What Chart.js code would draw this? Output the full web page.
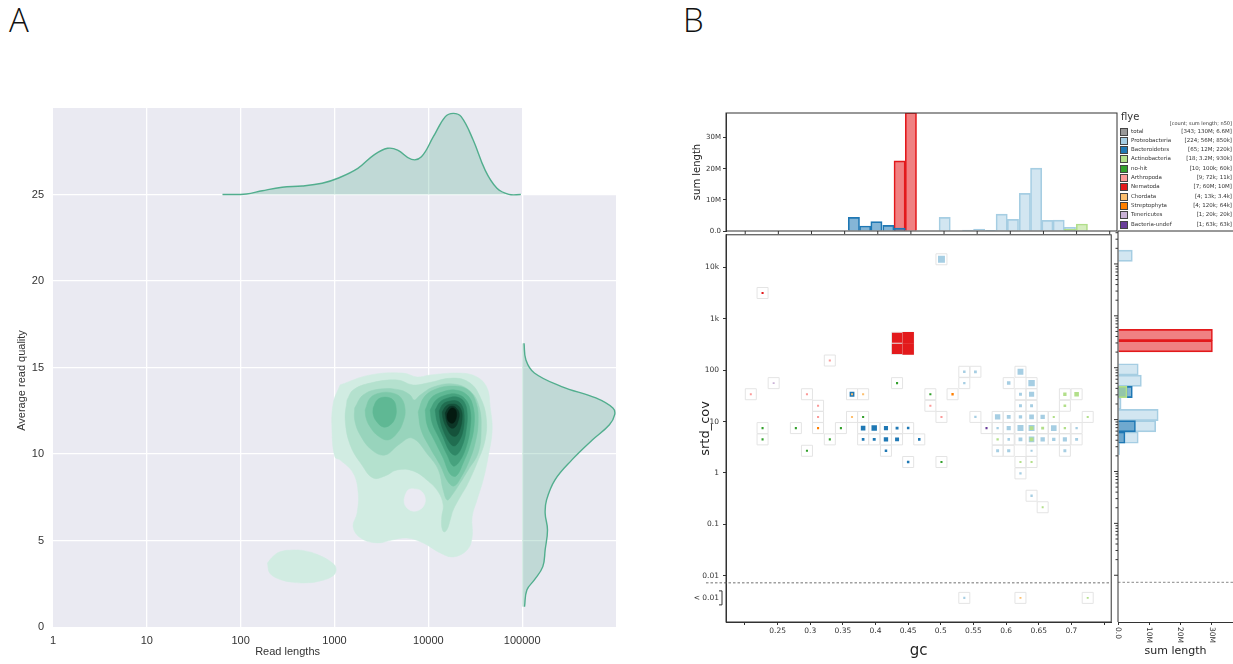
<!DOCTYPE html>
<html lang="en">
<head>
<meta charset="UTF-8">
<title>Read length / quality density and blobplot</title>
<script src="https://cdn.jsdelivr.net/npm/chart.js"></script>
<style>
  body { margin: 0; width: 1233px; height: 664px; position: relative; overflow: hidden; background: #fff; }
  canvas { position: absolute; }
  .tag { position: absolute; font: 300 33px "Open Sans", "Liberation Sans", sans-serif; color: #111; line-height: 33px; }
  #legend { position: absolute; left: 1117px; top: 110px; width: 116px; height: 121px; font-family: "DejaVu Sans", sans-serif; color: #333; }
  #legend .title { position: absolute; left: 4px; top: 1px; font-size: 10px; }
  #legend .head { position: absolute; right: 1px; top: 10px; font-size: 5px; }
  #legend .row { position: absolute; left: 3px; right: 1px; height: 9px; font-size: 5.5px; line-height: 9px; }
  #legend .sw { position: absolute; left: 0; top: 1px; width: 6px; height: 6px; border: 1px solid #444; }
  #legend .name { position: absolute; left: 11px; }
  #legend .stat { position: absolute; right: 0; }
</style>
</head>
<body>
<div class="tag" style="left:9px;top:3px">A</div>
<div class="tag" style="left:683px;top:3px">B</div>
<canvas id="kde" style="left:0;top:0" width="625" height="664"></canvas>
<canvas id="gcHist" style="left:660px;top:100px" width="460" height="140"></canvas>
<canvas id="blob" style="left:660px;top:226px" width="460" height="438"></canvas>
<canvas id="covHist" style="left:1100px;top:226px" width="133" height="438"></canvas>
<div id="legend"><div class="title">flye</div><div class="head">[count; sum length; n50]</div></div>

<script>
// ---------------- panel A: read length vs quality ----------------
const readLenTicks = [1, 10, 100, 1000, 10000, 100000];
const qualityTicks = [0, 5, 10, 15, 20, 25];

// marginal density of read length, drawn above quality 25
const lenDensityX = [64, 115, 170, 277, 452, 738, 1087, 1772, 2617, 3680, 4707, 6620, 8440, 11310, 15180, 18450, 22390, 30050, 40200, 53850, 72150, 96850];
const lenDensityY = [25.0, 25.03, 25.22, 25.42, 25.49, 25.65, 25.94, 26.51, 27.28, 27.67, 27.57, 27.03, 27.18, 28.34, 29.5, 29.69, 29.5, 28.15, 26.42, 25.36, 25.01, 25.0];

// marginal density of quality (relative units), drawn right of 100000
const qualDensityQ = [16.4, 15.43, 14.68, 13.9, 13.24, 12.66, 12.27, 11.69, 10.82, 9.66, 8.51, 7.35, 6.58, 5.61, 4.46, 3.49, 2.72, 2.14, 1.17];
const qualDensityV = [0.02, 0.04, 0.13, 0.42, 0.785, 0.967, 0.986, 0.93, 0.75, 0.53, 0.35, 0.26, 0.245, 0.27, 0.245, 0.22, 0.13, 0.05, 0.025];

// density contours, [read length, quality]
const level1 = [[1150,14.0],[2400,14.57],[5380,14.68],[7600,14.45],[10450,14.57],[21800,14.68],[33000,14.45],[42300,13.82],[45600,12.72],[47900,11.39],[43400,9.83],[38400,8.5],[33000,7.34],[29300,6.36],[29300,5.2],[25900,4.45],[18400,4.05],[13400,4.28],[8800,4.86],[5900,5.14],[4100,5.03],[2850,4.86],[1900,5.14],[1580,5.78],[1740,6.59],[1790,7.75],[1580,8.9],[1150,9.65],[1010,9.83],[940,11.39],[970,12.95]];
const lowBlob = [[193,3.7],[223,4.1],[263,4.35],[365,4.45],[486,4.4],[648,4.2],[898,3.8],[1040,3.4],[960,2.95],[648,2.62],[486,2.55],[365,2.58],[263,2.75],[205,3.1]];
const hole = [[5660,7.63],[6095,7.92],[7060,7.98],[8380,7.86],[9250,7.46],[9020,7.05],[7980,6.76],[6720,6.71],[5800,6.94],[5520,7.28]];
const level2 = [[1360,13.12],[1580,13.7],[2400,14.1],[4650,14.28],[6890,13.99],[9710,14.1],[18400,14.39],[27900,14.1],[35700,13.29],[41300,12.14],[40300,10.81],[33000,9.48],[25900,8.21],[21800,7.51],[18400,6.76],[17100,6.18],[15900,5.66],[14700,5.49],[13900,5.78],[13900,6.36],[14400,7.05],[12800,7.8],[9950,8.44],[6890,9.02],[4650,9.08],[3460,8.73],[2580,8.61],[1960,9.36],[1470,10.52],[1300,11.97]];
const level3 = [[1640,12.66],[2020,13.41],[3060,13.76],[5000,13.7],[6400,13.41],[7060,13.12],[8200,13.41],[11250,13.87],[18400,14.05],[27900,13.64],[34800,12.72],[36550,11.39],[33970,10.06],[26600,9.08],[21800,8.32],[17900,7.63],[15900,7.34],[14400,7.92],[12800,9.08],[9950,9.94],[6700,10.92],[4790,10.52],[3460,9.94],[2500,10.23],[1875,11.1],[1640,11.97]];
const leftL4 = [[2120,12.54],[2400,13.24],[3060,13.53],[4110,13.53],[5130,13.24],[5660,12.54],[5380,11.85],[4650,11.21],[3730,10.81],[2920,11.04],[2400,11.56],[2170,12.08]];
const rightL4 = [[7790,12.43],[9020,13.29],[12110,13.76],[18370,13.93],[26560,13.7],[32340,12.95],[33970,11.85],[31560,10.64],[27230,9.6],[22370,8.67],[18830,8.15],[16260,8.38],[13360,9.36],[10450,10.35],[8380,11.39]];
const leftL5 = [[2580,12.66],[2850,13.12],[3460,13.29],[4220,13.12],[4540,12.66],[4430,12.08],[3920,11.68],[3300,11.56],[2780,11.91],[2580,12.31]];
const rightL5 = [[9250,12.54],[10710,13.24],[14030,13.58],[19300,13.7],[25920,13.41],[30050,12.72],[30790,11.68],[27910,10.52],[23500,9.48],[19780,8.73],[17070,8.84],[14380,9.77],[11530,10.81],[9710,11.68]];
const level6 = [[10450,12.54],[12110,13.12],[15480,13.41],[19780,13.47],[24680,13.18],[27910,12.54],[27910,11.5],[25290,10.4],[21300,9.54],[18370,9.31],[15870,9.94],[13030,10.92],[10980,11.79]];
const level7 = [[11820,12.54],[13360,13.01],[16260,13.24],[20280,13.29],[24080,13.01],[25920,12.37],[25290,11.39],[22930,10.46],[19780,9.94],[17070,10.12],[14380,10.98],[12410,11.85]];
const level8 = [[13030,12.49],[14380,12.89],[17070,13.06],[20280,13.06],[22930,12.77],[24080,12.25],[23500,11.39],[21300,10.75],[18830,10.46],[16670,10.69],[14380,11.39],[13360,11.97]];
const level9 = [[14030,12.43],[15480,12.77],[17510,12.89],[20280,12.83],[22370,12.54],[22930,12.08],[21830,11.45],[19780,11.04],[17510,11.1],[15480,11.56],[14380,12.02]];
const level10 = [[15110,12.37],[16260,12.66],[17930,12.77],[19780,12.66],[21300,12.37],[20780,11.91],[19300,11.56],[17510,11.5],[15870,11.79]];
const level11 = [[15870,12.31],[17070,12.6],[18370,12.66],[19780,12.49],[19780,12.08],[18370,11.79],[16670,11.85],[15870,12.08]];

const face = '#eaeaf2';
const kdeShades = ['#d1ece2', '#b4e1ce', '#98d4bc', '#7cc8a9', '#5fb894', '#46a27e', '#2f8766', '#206d50', '#15523b', '#0c3526', '#041a10'];
// polygon, shade index (-1 = background hole), bottom to top
const kdePolys = [[level1, 0], [lowBlob, 0], [hole, -1], [level2, 1], [level3, 2], [leftL4, 3], [rightL4, 3], [leftL5, 4], [rightL5, 4],
  [level6, 5], [level7, 6], [level8, 7], [level9, 8], [level10, 9], [level11, 10]];

const closed = pts => pts.concat([pts[0]]).map(p => ({x: p[0], y: p[1]}));

const facePlugin = {
  id: 'face',
  beforeDraw(chart) {
    const {ctx, scales: {x, y}} = chart;
    const l = x.getPixelForValue(1), r = x.getPixelForValue(1e6), m = x.getPixelForValue(1e5);
    const b = y.getPixelForValue(0), s = y.getPixelForValue(25), t = y.getPixelForValue(30);
    ctx.save();
    ctx.fillStyle = face;
    ctx.fillRect(l, s, r - l, b - s);
    ctx.fillRect(l, t, m - l, s - t);
    ctx.restore();
  },
  afterDraw(chart) {
    const {ctx, scales: {x, y}} = chart;
    ctx.save();
    ctx.fillStyle = '#333';
    ctx.font = '11px "Liberation Sans", Arial, sans-serif';
    ctx.textAlign = 'center';
    ctx.textBaseline = 'middle';
    ctx.fillText('Read lengths', (x.getPixelForValue(1) + x.getPixelForValue(1e5)) / 2, 652);
    ctx.translate(22, y.getPixelForValue(14.25));
    ctx.rotate(-Math.PI / 2);
    ctx.fillText('Average read quality', 0, 0);
    ctx.restore();
  }
};

const kdeSets = kdePolys.map(([pts, s], i) => ({
  data: closed(pts),
  fill: 'shape',
  backgroundColor: s < 0 ? face : kdeShades[s],
  borderColor: s < 0 ? face : kdeShades[s],
  borderWidth: 0.5,
  pointRadius: 0,
  tension: 0.4,
  order: 100 - i
}));

kdeSets.push({
  data: lenDensityX.map((v, i) => ({x: v, y: lenDensityY[i]})),
  fill: {value: 25},
  backgroundColor: 'rgba(82,174,142,0.28)',
  borderColor: '#52ae8e',
  borderWidth: 1.4,
  pointRadius: 0,
  tension: 0.4,
  order: 1
});
kdeSets.push({
  indexAxis: 'y',
  xAxisID: 'xd',
  data: qualDensityQ.map((q, i) => ({x: qualDensityV[i], y: q})),
  fill: {value: 0},
  backgroundColor: 'rgba(82,174,142,0.28)',
  borderColor: '#52ae8e',
  borderWidth: 1.4,
  pointRadius: 0,
  tension: 0.4,
  order: 1
});

const fontA = {family: '"Liberation Sans", Arial, sans-serif', size: 11};
new Chart(document.getElementById('kde'), {
  type: 'line',
  data: {datasets: kdeSets},
  options: {
    responsive: false,
    animation: false,
    events: [],
    layout: {padding: {top: 108, right: 9, left: 11, bottom: 0}},
    plugins: {legend: {display: false}, tooltip: {enabled: false}},
    scales: {
      x: {
        type: 'logarithmic', min: 1, max: 1e6,
        afterBuildTicks: s => { s.ticks = readLenTicks.map(v => ({value: v})); },
        afterFit: s => { s.height = 37; },
        ticks: {font: fontA, color: '#333', padding: 7, maxRotation: 0, autoSkip: false, callback: v => String(v)},
        grid: {color: c => c.tick && c.tick.value === 1 ? 'rgba(0,0,0,0)' : '#ffffff', lineWidth: 1.3, drawTicks: false},
        border: {display: false}
      },
      xd: {type: 'linear', display: false, min: -5, max: 1},
      y: {
        type: 'linear', min: 0, max: 30,
        afterBuildTicks: s => { s.ticks = qualityTicks.map(v => ({value: v})); },
        afterFit: s => { s.width = 42; },
        ticks: {font: fontA, color: '#333', padding: 9},
        grid: {color: c => c.tick && c.tick.value === 0 ? 'rgba(0,0,0,0)' : '#ffffff', lineWidth: 1.3, drawTicks: false},
        border: {display: false}
      }
    }
  },
  plugins: [facePlugin]
});

// ---------------- panel B: blobplot ----------------
const zeroCov = 0.0037;   // where contigs with coverage < 0.01 are placed
const covCut = 0.0073;    // dashed separator
const gcTicks = [0.2, 0.25, 0.3, 0.35, 0.4, 0.45, 0.5, 0.55, 0.6, 0.65, 0.7, 0.75];
const gcTickLabels = ['', '0.25', '0.3', '0.35', '0.4', '0.45', '0.5', '0.55', '0.6', '0.65', '0.7', ''];
const covTicks = [zeroCov, 0.01, 0.1, 1, 10, 100, 1000, 10000];
const covTickLabels = ['< 0.01', '0.01', '0.1', '1', '10', '100', '1k', '10k'];
const sumLenTicks = [0, 10, 20, 30];
const sumLenLabels = ['0.0', '10M', '20M', '30M'];

// binned contigs per taxon: [gc, coverage, sum length (Mb)]
const proteoBins = [[0.501,14400,4.4],[0.536,93,0.15],[0.553,93,0.25],[0.622,93,2.8],[0.536,56,0.1],[0.604,56,0.6],[0.639,56,3.6],[0.622,34,0.3],[0.639,34,2.0],[0.622,20.3,0.3],[0.639,20.3,0.3],[0.553,12.3,0.1],[0.587,12.3,2.2],[0.604,12.3,0.8],[0.622,12.3,0.5],[0.639,12.3,1.5],[0.656,12.3,1.2],[0.587,7.46,0.1],[0.604,7.46,1.0],[0.622,7.46,3.0],[0.639,7.46,3.0],[0.673,7.46,2.5],[0.708,7.46,0.1],[0.604,4.5,0.15],[0.622,4.5,0.8],[0.639,4.5,2.5],[0.656,4.5,1.2],[0.673,4.5,0.5],[0.690,4.5,1.0],[0.708,4.5,0.3],[0.587,2.7,0.3],[0.604,2.7,0.4],[0.639,2.7,0.05],[0.690,2.7,0.3],[0.622,0.98,0.1],[0.639,0.36,0.1],[0.536,zeroCov,0.05]];
const bacteroBins = [[0.364,34,1.6],[0.381,7.46,1.4],[0.398,7.46,2.3],[0.416,7.46,1.0],[0.433,7.46,0.3],[0.450,7.46,0.15],[0.381,4.5,0.2],[0.398,4.5,0.3],[0.416,4.5,1.2],[0.433,4.5,0.9],[0.467,4.5,0.15],[0.416,2.7,0.15],[0.450,1.63,0.15]];
const actinoBins = [[0.690,34,0.5],[0.708,34,1.4],[0.690,20.3,0.2],[0.673,12.3,0.05],[0.725,12.3,0.05],[0.656,7.46,0.3],[0.639,7.46,0.8],[0.690,7.46,0.1],[0.587,4.5,0.1],[0.639,4.5,0.8],[0.622,1.63,0.05],[0.639,1.63,0.05],[0.656,0.215,0.03],[0.725,zeroCov,0.03]];
const nohitBins = [[0.227,7.46,0.05],[0.227,4.5,0.05],[0.278,7.46,0.05],[0.347,7.46,0.05],[0.330,4.5,0.05],[0.295,2.7,0.05],[0.433,56,0.05],[0.381,12.3,0.05],[0.484,34,0.05],[0.501,1.63,0.05]];
const arthroBins = [[0.330,154,0.05],[0.209,34,0.03],[0.295,34,0.05],[0.312,20.3,0.05],[0.484,20.3,0.05],[0.312,12.3,0.05],[0.501,12.3,0.05]];
const nemaBins = [[0.227,3180,0.05],[0.433,427,11],[0.433,259,11.5],[0.450,427,19],[0.450,259,18.5]];
const chordBins = [[0.381,34,0.05],[0.364,12.3,0.05],[0.364,34,0.03],[0.622,zeroCov,0.03]];
const streptoBins = [[0.518,34,0.1],[0.312,7.46,0.05]];
const teneBins = [[0.244,56,0.03]];
const undefBins = [[0.570,7.46,0.05]];

// sum length histograms (Mb) along gc and along coverage
const gcHistProteo = [[0.501,4.4],[0.536,0.3],[0.553,0.6],[0.570,0.2],[0.587,5.4],[0.604,3.75],[0.622,12.1],[0.639,20.2],[0.656,3.4],[0.673,3.5],[0.690,1.2]];
const gcHistNema = [[0.433,22.5],[0.450,38]];
const gcHistBactero = [[0.364,4.4],[0.381,1.6],[0.398,3.0],[0.416,1.8],[0.433,0.9]];
const gcHistActino = [[0.690,0.6],[0.708,2.25]];
const covHistProteo = [[14400,4.6],[93,6.5],[56,7.5],[34,3.0],[20.3,1.0],[12.3,12.9],[7.46,12.1],[4.5,6.5],[2.7,0.5]];
const covHistNema = [[427,30.3],[259,30.3]];
const covHistBactero = [[34,4.6],[7.46,5.6],[4.5,2.25]];
const covHistActino = [[34,2.9]];

const legendNames = ['total', 'Proteobacteria', 'Bacteroidetes', 'Actinobacteria', 'no-hit', 'Arthropoda', 'Nematoda', 'Chordata', 'Streptophyta', 'Tenericutes', 'Bacteria-undef'];
const legendStats = ['[343; 130M; 6.6M]', '[224; 56M; 850k]', '[65; 12M; 220k]', '[18; 3.2M; 930k]', '[10; 100k; 60k]', '[9; 72k; 11k]', '[7; 60M; 10M]', '[4; 13k; 3.4k]', '[4; 120k; 64k]', '[1; 20k; 20k]', '[1; 63k; 63k]'];

const taxonColor = {
  'total': '#999999', 'Proteobacteria': '#a6cee3', 'Bacteroidetes': '#1f78b4', 'Actinobacteria': '#b2df8a',
  'no-hit': '#33a02c', 'Arthropoda': '#fb9a99', 'Nematoda': '#e31a1c', 'Chordata': '#fdbf6f',
  'Streptophyta': '#ff7f00', 'Tenericutes': '#cab2d6', 'Bacteria-undef': '#6a3d9a'
};
const rgba = (hex, a) => {
  const n = parseInt(hex.slice(1), 16);
  return `rgba(${n >> 16},${(n >> 8) & 255},${n & 255},${a})`;
};

const legend = document.getElementById('legend');
legendNames.forEach((name, i) => {
  const row = document.createElement('div');
  row.className = 'row';
  row.style.top = (16.5 + i * 9.3) + 'px';
  row.innerHTML = `<span class="sw" style="background:${taxonColor[name]}"></span><span class="name">${name}</span><span class="stat">${legendStats[i]}</span>`;
  legend.appendChild(row);
});

const fontB = size => ({family: '"DejaVu Sans", sans-serif', size});
const baseOpts = {responsive: false, animation: false, events: [], plugins: {legend: {display: false}, tooltip: {enabled: false}}};

// top histogram: sum length by gc
const gcFrame = {
  id: 'gcFrame',
  afterDraw(chart) {
    const {ctx, chartArea: a, scales: {x}} = chart;
    ctx.save();
    ctx.strokeStyle = '#333';
    ctx.lineWidth = 1;
    ctx.strokeRect(a.left, a.top, a.width, a.height);
    ctx.beginPath();
    gcTicks.forEach(v => { const px = x.getPixelForValue(v); ctx.moveTo(px, a.bottom); ctx.lineTo(px, a.bottom + 3); });
    ctx.stroke();
    ctx.restore();
  }
};
const histBar = (rows, name, horizontal) => ({
  label: name,
  data: rows.map(r => horizontal ? {x: r[1], y: r[0]} : {x: r[0], y: r[1]}),
  backgroundColor: rgba(taxonColor[name], name === 'Proteobacteria' ? 0.5 : 0.55),
  borderColor: taxonColor[name],
  borderWidth: 1,
  grouped: false,
  barPercentage: 1,
  categoryPercentage: 1
});

new Chart(document.getElementById('gcHist'), {
  type: 'bar',
  data: {datasets: [histBar(gcHistProteo, 'Proteobacteria'), histBar(gcHistNema, 'Nematoda'), histBar(gcHistBactero, 'Bacteroidetes'), histBar(gcHistActino, 'Actinobacteria')].map((d, i, all) => Object.assign(d, {order: all.length - i}))},
  options: Object.assign({}, baseOpts, {
    layout: {padding: {top: 13, right: 3, left: 27, bottom: 9}},
    scales: {
      x: {type: 'linear', display: false, min: 0.171, max: 0.761, offset: false, grid: {offset: false},
          afterBuildTicks: s => { s.ticks = gcTicks.map(v => ({value: v})); }},
      y: {
        type: 'linear', min: 0, max: 37.9,
        afterBuildTicks: s => { s.ticks = sumLenTicks.map(v => ({value: v})); },
        afterFit: s => { s.width = 39; },
        ticks: {font: fontB(7), color: '#333', padding: 2, callback: (v, i) => sumLenLabels[i]},
        grid: {drawOnChartArea: false, tickLength: 3, color: '#333'},
        border: {color: '#333'},
        title: {display: true, text: 'sum length', font: fontB(10), color: '#222', padding: {top: 4}}
      }
    }
  }),
  plugins: [gcFrame]
});

// main blob scatter
const blobSets = [['Proteobacteria', proteoBins], ['Bacteroidetes', bacteroBins], ['Actinobacteria', actinoBins], ['no-hit', nohitBins],
  ['Arthropoda', arthroBins], ['Nematoda', nemaBins], ['Chordata', chordBins], ['Streptophyta', streptoBins],
  ['Tenericutes', teneBins], ['Bacteria-undef', undefBins]];
const markerSide = span => Math.min(11.5, 1.5 + 2.6 * Math.sqrt(span));

const cells = {};
blobSets.forEach(([, bins]) => bins.forEach(b => { cells[b[0] + '|' + b[1]] = {x: b[0], y: b[1]}; }));

const scatterSets = [{
  data: Object.values(cells),
  pointStyle: 'rect',
  pointRadius: 11 / Math.SQRT2,
  backgroundColor: 'rgba(0,0,0,0)',
  borderColor: '#e4e4e4',
  borderWidth: 1,
  order: 100
}].concat(blobSets.map(([name, bins], i) => ({
  label: name,
  data: bins.map(b => ({x: b[0], y: b[1], s: b[2]})),
  pointStyle: 'rect',
  pointRadius: c => markerSide(c.raw.s) / Math.SQRT2,
  backgroundColor: taxonColor[name],
  borderWidth: 0,
  order: blobSets.length - i
})));

const blobFrame = {
  id: 'blobFrame',
  afterDraw(chart) {
    const {ctx, chartArea: a, scales: {y}} = chart;
    ctx.save();
    const yc = y.getPixelForValue(covCut);
    ctx.strokeStyle = '#a0a0a0';
    ctx.lineWidth = 1.3;
    ctx.setLineDash([2.5, 2]);
    ctx.beginPath(); ctx.moveTo(a.left - 20, yc); ctx.lineTo(a.right, yc); ctx.stroke();
    ctx.setLineDash([]);
    ctx.strokeStyle = '#333';
    ctx.lineWidth = 1;
    ctx.strokeRect(a.left, a.top, a.width, a.height);
    const yz = y.getPixelForValue(zeroCov);
    ctx.beginPath();
    ctx.moveTo(a.left - 7, yz - 7); ctx.lineTo(a.left - 4, yz - 7); ctx.lineTo(a.left - 4, yz + 7); ctx.lineTo(a.left - 7, yz + 7);
    ctx.stroke();
    ctx.restore();
  }
};

new Chart(document.getElementById('blob'), {
  type: 'scatter',
  data: {datasets: scatterSets},
  options: Object.assign({}, baseOpts, {
    layout: {padding: {top: 5, right: 3, left: 34, bottom: 0}},
    scales: {
      x: {
        type: 'linear', min: 0.171, max: 0.761,
        afterBuildTicks: s => { s.ticks = gcTicks.map(v => ({value: v})); },
        afterFit: s => { s.height = 42; },
        ticks: {font: fontB(7.5), color: '#333', padding: 2, autoSkip: false, maxRotation: 0, callback: (v, i) => gcTickLabels[i]},
        grid: {drawOnChartArea: false, tickLength: 3, color: '#333'},
        border: {color: '#333'},
        title: {display: true, text: 'gc', font: fontB(15), color: '#222', padding: {top: 0, bottom: 4}}
      },
      y: {
        type: 'logarithmic', min: 0.001256, max: 43150,
        afterBuildTicks: s => { s.ticks = covTicks.map(v => ({value: v})); },
        afterFit: s => { s.width = 32; },
        ticks: {font: fontB(7.5), color: '#333', padding: 4, autoSkip: false, callback: (v, i) => covTickLabels[i]},
        grid: {drawOnChartArea: false, tickLength: 3, color: c => c.tick && c.tick.value === zeroCov ? 'rgba(0,0,0,0)' : '#333'},
        border: {color: '#333'},
        title: {display: true, text: 'srtd_cov', font: fontB(13), color: '#222', padding: {top: 4}}
      }
    }
  }),
  plugins: [blobFrame]
});

// right histogram: sum length by coverage
const covFrame = {
  id: 'covFrame',
  afterDraw(chart) {
    const {ctx, chartArea: a, scales: {x, y}} = chart;
    ctx.save();
    const yc = y.getPixelForValue(covCut);
    ctx.strokeStyle = '#a0a0a0';
    ctx.lineWidth = 1.3;
    ctx.setLineDash([2.5, 2]);
    ctx.beginPath(); ctx.moveTo(a.left, yc); ctx.lineTo(a.right, yc); ctx.stroke();
    ctx.setLineDash([]);
    ctx.strokeStyle = '#333';
    ctx.lineWidth = 1;
    ctx.beginPath(); ctx.moveTo(a.right, a.top); ctx.lineTo(a.left, a.top); ctx.lineTo(a.left, a.bottom); ctx.stroke();
    ctx.beginPath();
    for (let d = -2; d <= 4; d++) {
      for (let m = 1; m <= 9; m++) {
        const v = m * Math.pow(10, d);
        if (v > y.max) break;
        const py = y.getPixelForValue(v);
        const len = m === 1 ? 4 : 2.5;
        ctx.moveTo(a.left - len, py); ctx.lineTo(a.left, py);
      }
    }
    ctx.stroke();
    ctx.fillStyle = '#333';
    ctx.font = '7.5px "DejaVu Sans", sans-serif';
    ctx.textAlign = 'left';
    ctx.textBaseline = 'middle';
    sumLenTicks.forEach((v, i) => {
      ctx.save();
      ctx.translate(x.getPixelForValue(v), a.bottom + 5);
      ctx.rotate(Math.PI / 2);
      ctx.fillText(sumLenLabels[i], 0, 0);
      ctx.restore();
    });
    ctx.restore();
  }
};

new Chart(document.getElementById('covHist'), {
  type: 'bar',
  data: {datasets: [histBar(covHistProteo, 'Proteobacteria', true), histBar(covHistNema, 'Nematoda', true), histBar(covHistBactero, 'Bacteroidetes', true), histBar(covHistActino, 'Actinobacteria', true)].map((d, i, all) => Object.assign(d, {order: all.length - i}))},
  options: Object.assign({}, baseOpts, {
    indexAxis: 'y',
    layout: {padding: {top: 5, right: 0, left: 18, bottom: 0}},
    scales: {
      x: {
        type: 'linear', min: 0, max: 36.9,
        afterBuildTicks: s => { s.ticks = sumLenTicks.map(v => ({value: v})); },
        afterFit: s => { s.height = 42; },
        ticks: {display: false},
        grid: {drawOnChartArea: false, tickLength: 3, color: '#333'},
        border: {color: '#333'},
        title: {display: true, text: 'sum length', font: fontB(11), color: '#222', padding: {top: 0, bottom: 6}}
      },
      y: {
        type: 'logarithmic', display: false, min: 0.001256, max: 43150, offset: false, grid: {offset: false},
        afterBuildTicks: s => { s.ticks = [0.01, 0.1, 1, 10, 100, 1000, 10000].map(v => ({value: v})); }
      }
    }
  }),
  plugins: [covFrame]
});
</script>
</body>
</html>
